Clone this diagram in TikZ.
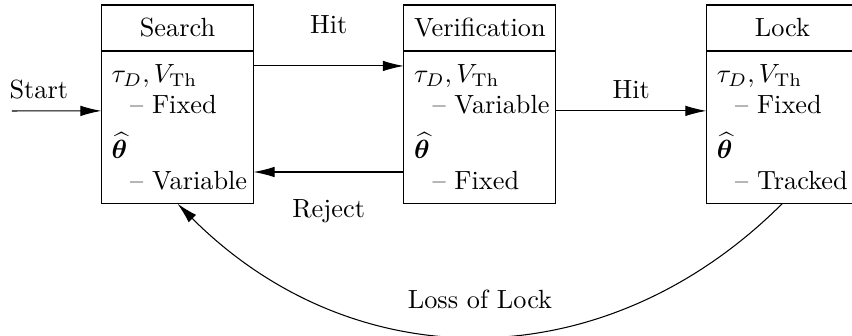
\documentclass[tikz,border=0pt]{standalone}
\usepackage{amsmath,bm,amsfonts,amssymb}
\usepackage{tikz}
\usetikzlibrary{arrows.meta,positioning}
\tikzset{
    statetitle/.style={draw,black,outer sep=0pt,minimum width=2.03cm,minimum height=0.615cm,inner sep=0pt},
    statebody/.style={draw,black,outer sep=0pt,text width=50pt,inner xsep=3.9pt,inner ysep=5pt,minimum height=2.02cm,align=left},
    transition/.style={->,>={Latex[length=8pt,width=4pt]}}
}
\newcommand{\parind}[1]{\hspace*{7pt}\mbox{-- #1}}

\begin{document}
\begin{tikzpicture}
\useasboundingbox (0,0) rectangle (11.386,4.49);
% states
\node[statetitle] (search) at (2.372,4.116) {Search};
\node[statebody,below=0pt of search] (searchb) {$\tau_D, V_{\mathrm{Th}}$\\ \parind{Fixed}\\[5pt] $\widehat{\boldsymbol{\theta}}$\\ \parind{Variable}};
\node[statetitle] (verif) at (6.413,4.116) {Verification};
\node[statebody,below=0pt of verif] (verifb) {$\tau_D, V_{\mathrm{Th}}$\\ \parind{Variable}\\[5pt] $\widehat{\boldsymbol{\theta}}$\\ \parind{Fixed}};
\node[statetitle] (lock) at (10.457,4.116) {Lock};
\node[statebody,below=0pt of lock] (lockb) {$\tau_D, V_{\mathrm{Th}}$\\ \parind{Fixed}\\[5pt] $\widehat{\boldsymbol{\theta}}$\\ \parind{Tracked}};
% transitions
\coordinate (start) at (0.16,3.007);
\draw[transition] (start)--([yshift=-0.8cm]searchb.north west)node[pos=0.3,above=1pt]{Start};
\draw[transition] ([yshift=-0.2cm]searchb.north east)--([yshift=-0.2cm]verifb.north west)node[midway,above=0.3cm]{Hit};
\draw[transition] ([yshift=-1.617cm]verifb.north west)--([yshift=-1.617cm]searchb.north east)node[midway,below=0.24cm]{Reject};
\draw[transition] ([yshift=-0.8cm]verifb.north east)--([yshift=-0.8cm]lockb.north west)node[midway,above=1pt]{Hit};
\draw[transition] (lockb.south) to[out=-135,in=-45,looseness=1.06] node[midway,above=0.24cm]{Loss of Lock} (searchb.south);
\end{tikzpicture}
\end{document}
